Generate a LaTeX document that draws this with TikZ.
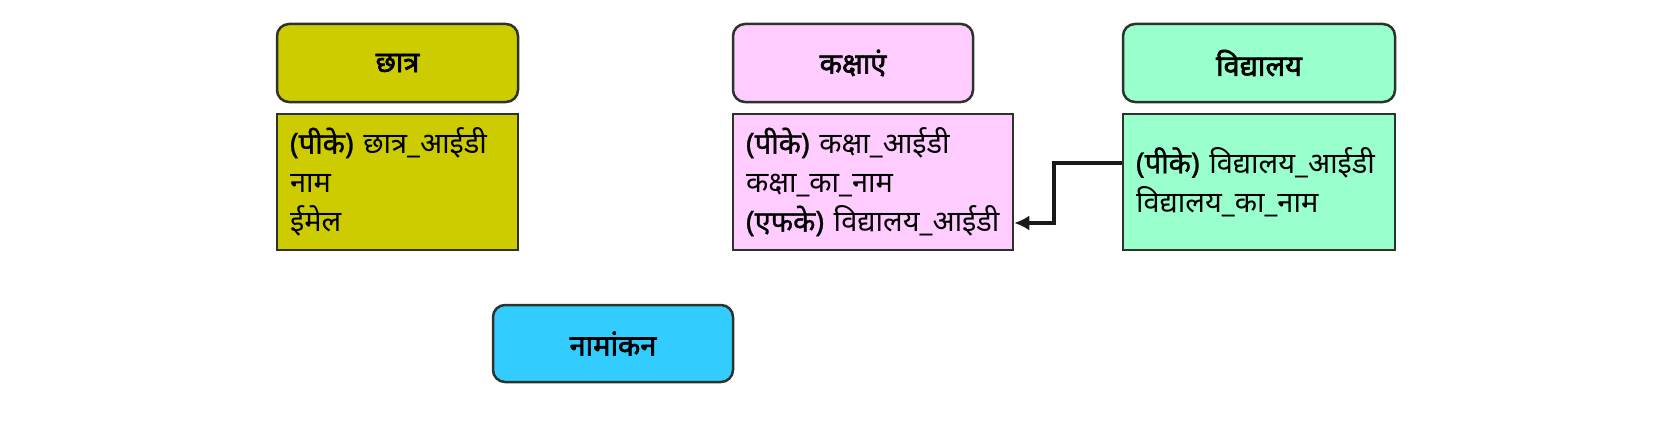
\documentclass[tikz,border=0pt]{standalone}
\usepackage{fontspec}
\setmainfont{Noto Sans}[Script=Devanagari, AutoFakeBold=2.2]
\newfontfamily\keyfont{Noto Sans}[Script=Devanagari, FakeBold=1.1]
\newcommand{\keymark}[1]{{\keyfont #1}}
\usetikzlibrary{arrows.meta}
\definecolor{chhatrafill}{HTML}{CCCC00}
\definecolor{kakshafill}{HTML}{FFCCFF}
\definecolor{vidyalayafill}{HTML}{99FFCC}
\definecolor{namankanfill}{HTML}{33CCFF}
\definecolor{edge}{HTML}{2B332B}
\begin{document}
\begin{tikzpicture}[x=1pt,y=-1pt,
  every node/.style={font=\fontsize{29}{39}\selectfont, line width=2.5pt, draw=edge},
  head/.style={rounded corners=12pt, minimum height=78pt, font=\fontsize{29}{39}\selectfont\bfseries},
  body/.style={minimum height=136pt, inner xsep=13pt, align=left},
  fk/.style={line width=3.8pt, draw=black!90, -{Latex[length=15pt,width=15pt]}}]
	\useasboundingbox (0,0) rectangle (1666,428);
	% entity headers
	\node [head, fill=chhatrafill, minimum width=241pt] (chhatra) at (397.5,63) {छात्र};
	\node [head, fill=kakshafill, minimum width=240pt] (kaksha) at (853,63) {कक्षाएं};
	\node [head, fill=vidyalayafill, minimum width=272pt] (vidyalaya) at (1259,63) {विद्यालय};
	\node [head, fill=namankanfill, minimum width=240pt, minimum height=77pt] (namankan) at (613,343.5) {नामांकन};
	% entity fields
	\node [body, fill=chhatrafill, text width=215pt] (chhatrabody) at (397.5,182)
		{\keymark{(पीके)}~छात्र\_आईडी\\नाम\\ईमेल};
	\node [body, fill=kakshafill, text width=254pt] (kakshabody) at (873,182)
		{\keymark{(पीके)}~कक्षा\_आईडी\\कक्षा\_का\_नाम\\\keymark{(एफके)}~विद्यालय\_आईडी};
	\node [body, fill=vidyalayafill, text width=246pt] (vidyalayabody) at (1259,182)
		{\keymark{(पीके)}~विद्यालय\_आईडी\\विद्यालय\_का\_नाम};
	% foreign key
	\draw [fk] ([yshift=19pt]vidyalayabody.west) -- ++(-68,0) |- ([yshift=-41pt]kakshabody.east);
\end{tikzpicture}
\end{document}
